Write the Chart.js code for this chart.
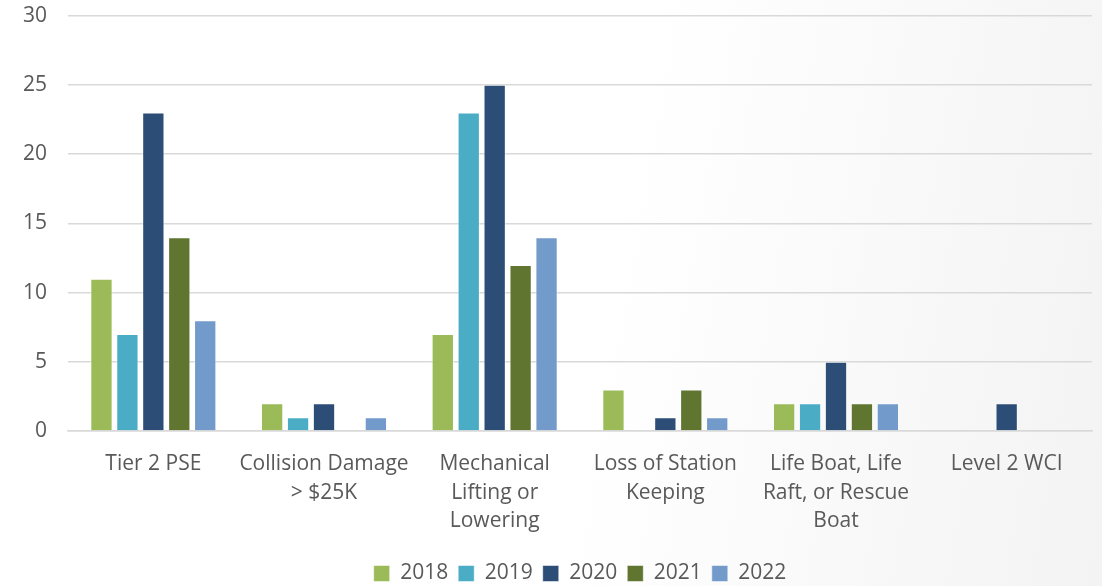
<!DOCTYPE html>
<html>
<head>
<meta charset="utf-8">
<script src="https://cdn.jsdelivr.net/npm/chart.js@4.4.0/dist/chart.umd.min.js"></script>
<style>
  html, body { margin: 0; padding: 0; }
  body {
    width: 1102px; height: 586px; overflow: hidden;
    background: linear-gradient(100deg, #ffffff 0%, #ffffff 55%, #f3f3f3 100%);
  }
  #wrap { position: relative; width: 1102px; height: 586px; overflow: hidden; }
  /* canvas is a bit taller and pulled up so the top gridline sits near the edge */
  #chartData { position: absolute; left: 0; top: -18px; }
</style>
</head>
<body>
<div id="wrap"><canvas id="chartData" width="1102" height="604"></canvas></div>
<script>
// categories and values
const categories = [
    "Tier 2 PSE",
    ["Collision Damage", "> $25K"],
    ["Mechanical", "Lifting or", "Lowering"],
    ["Loss of Station", "Keeping"],
    ["Life Boat, Life", "Raft, or Rescue", "Boat"],
    "Level 2 WCI"
];
const years = ["2018", "2019", "2020", "2021", "2022"];
const values2018 = [11, 2, 7, 3, 2, null];
const values2019 = [7, 1, 23, null, 2, null];
const values2020 = [23, 2, 25, 1, 5, 2];
const values2021 = [14, null, 12, 3, 2, null];
const values2022 = [8, 1, 14, 1, 2, null];
const yTicks = [0, 5, 10, 15, 20, 25, 30];

const colors = ["#9BBB59", "#4BACC6", "#2C4D75", "#5F7530", "#729ACA"];
const series = [values2018, values2019, values2020, values2021, values2022];

const ctx = document.getElementById("chartData");

new Chart(ctx, {
    type: "bar",
    data: {
        labels: categories,
        datasets: series.map((vals, i) => ({
            label: years[i],
            data: vals,
            backgroundColor: colors[i],
            borderColor: "rgba(255,255,255,0.5)",
            borderWidth: 1,
            barPercentage: 0.86,
            categoryPercentage: 0.76,
        })),
    },
    options: {
        responsive: false,
        animation: false,
        devicePixelRatio: 1,
        layout: { padding: { top: 0, right: 10, left: 2, bottom: -8 } },
        plugins: {
            legend: {
                position: "bottom",
                fullSize: false,
                // empty title only adds a little space above the legend row
                title: {
                    display: true,
                    text: " ",
                    color: "rgba(0,0,0,0)",
                    font: { size: 1, lineHeight: 1 },
                    padding: { top: 3, bottom: 3 },
                },
                labels: {
                    boxWidth: 16,
                    boxHeight: 16,
                    padding: 10,
                    color: "#595959",
                    font: { family: "Open Sans", size: 21 },
                },
            },
            tooltip: { enabled: false },
        },
        scales: {
            x: {
                grid: { display: false },
                border: { display: true, color: "#d9d9d9", width: 1.5 },
                ticks: {
                    color: "#595959",
                    font: { family: "Open Sans", size: 21, lineHeight: 1.38 },
                    padding: 10,
                    maxRotation: 0,
                    autoSkip: false,
                },
            },
            y: {
                min: 0,
                max: 30,
                afterBuildTicks: axis => { axis.ticks = yTicks.map(v => ({ value: v })); },
                grid: { color: "#d9d9d9", lineWidth: 1.5, drawTicks: false },
                border: { display: false },
                ticks: {
                    color: "#595959",
                    font: { family: "Open Sans", size: 21 },
                    padding: 21,
                },
            },
        },
    },
});
</script>
</body>
</html>
